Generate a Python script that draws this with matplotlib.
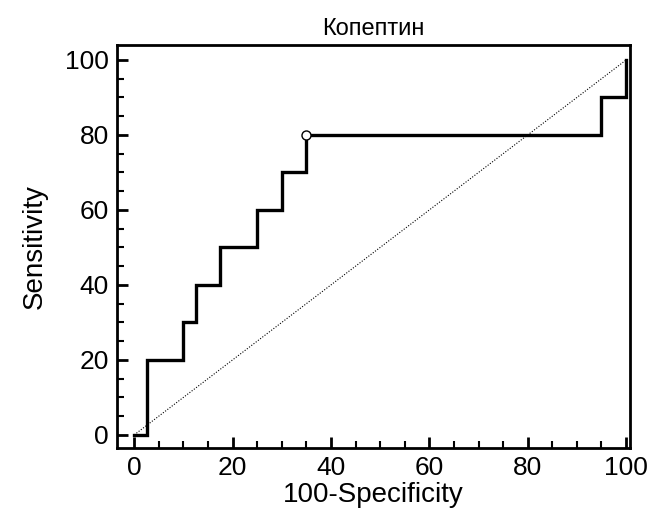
import matplotlib.pyplot as plt
from matplotlib.ticker import MultipleLocator

plt.rcParams['font.family'] = ['Liberation Sans', 'DejaVu Sans']

# ROC step curve (100-Specificity, Sensitivity)
fpr = [0, 2.5, 2.5, 10, 10, 12.5, 12.5, 17.5, 17.5, 25, 25, 30, 30, 35, 35, 95, 95, 100, 100]
tpr = [0, 0, 20, 20, 30, 30, 40, 40, 50, 50, 60, 60, 70, 70, 80, 80, 90, 90, 100]
cut_x, cut_y = 35, 80
ticks = [0, 20, 40, 60, 80, 100]

fig = plt.figure(figsize=(6.49, 5.12), dpi=100)
ax = fig.add_axes([117 / 649, 64 / 512, 513 / 649, 403 / 512])

ax.plot([0, 100], [0, 100], color='black', linestyle=(0, (1, 1.5)), linewidth=0.8)
ax.plot(fpr, tpr, color='black', linewidth=2.4, solid_joinstyle='miter')
ax.plot(cut_x, cut_y, marker='o', markersize=6.5, markerfacecolor='white',
        markeredgecolor='black', markeredgewidth=1.0)

ax.set_xlim(-3.5, 100.8)
ax.set_ylim(-3.5, 104)
ax.set_xticks(ticks)
ax.set_yticks(ticks)
ax.xaxis.set_minor_locator(MultipleLocator(5))
ax.yaxis.set_minor_locator(MultipleLocator(5))
ax.tick_params(which='major', direction='in', length=8, width=2, labelsize=19, pad=6)
ax.tick_params(which='minor', direction='in', length=5, width=1.5)
ax.tick_params(top=False, right=False, which='both')
for s in ax.spines.values():
    s.set_linewidth(2)

ax.set_xlabel('100-Specificity', fontsize=20, labelpad=1)
ax.set_ylabel('Sensitivity', fontsize=20, labelpad=12)
ax.set_title('Копептин', fontsize=17, pad=7)

fig.savefig('out.png', dpi=100)
